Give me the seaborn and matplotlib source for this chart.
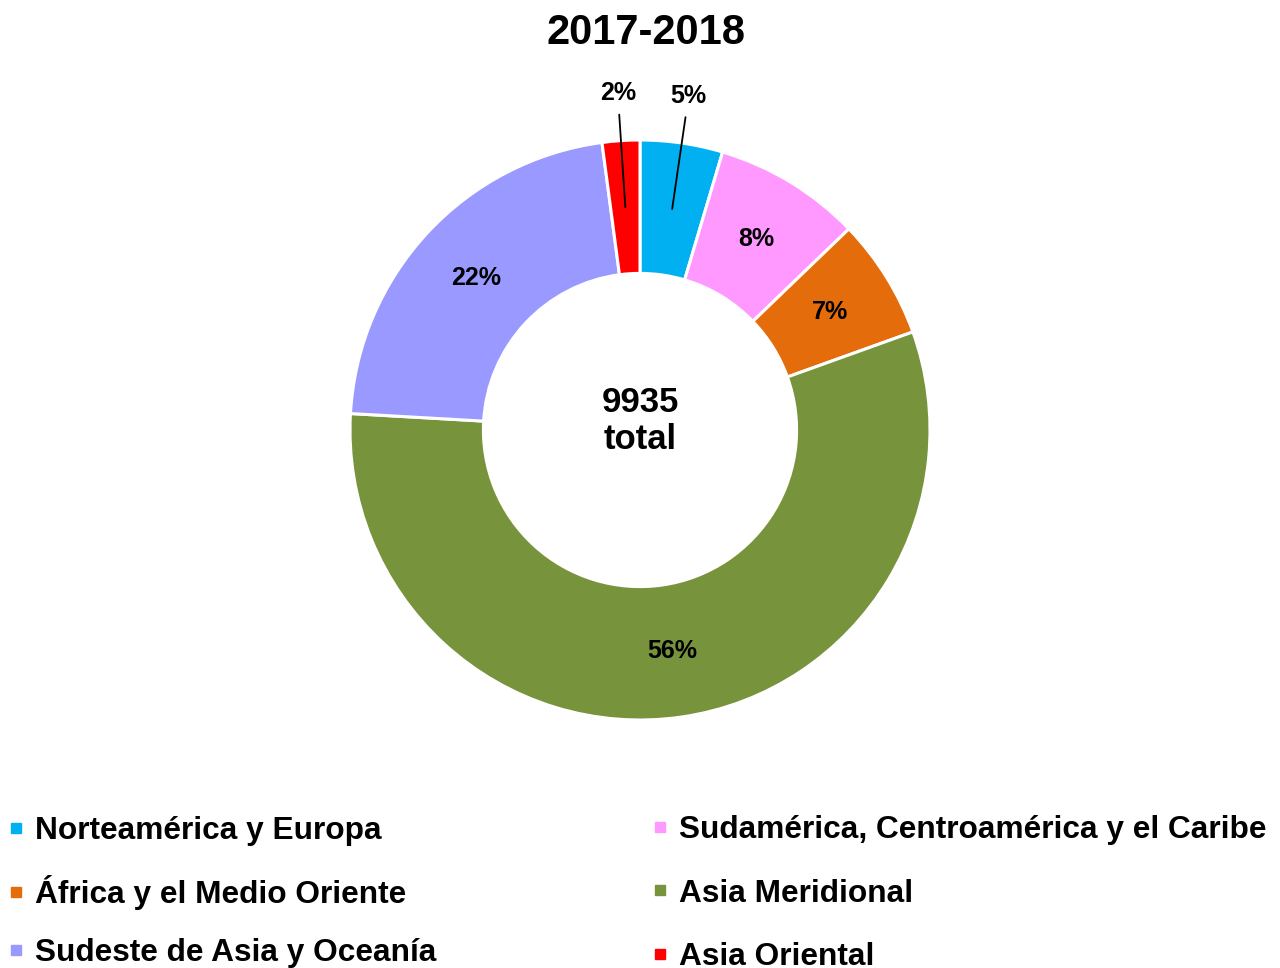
import numpy as np
import seaborn as sns
import matplotlib.pyplot as plt
from matplotlib.lines import Line2D

# data
regions = ["Norteamérica y Europa", "Sudamérica, Centroamérica y el Caribe",
           "África y el Medio Oriente", "Asia Meridional",
           "Sudeste de Asia y Oceanía", "Asia Oriental"]
counts = [457, 815, 666, 5603, 2186, 208]
colors = ["#00B0F0", "#FF99FF", "#E46C0A", "#77933C", "#9999FF", "#FF0000"]
title = "2017-2018"

sns.set_theme(style="white")
plt.rcParams['font.family'] = ['Liberation Sans', 'DejaVu Sans']
plt.rcParams['font.weight'] = 'bold'
plt.rcParams['text.color'] = 'black'

fig = plt.figure(figsize=(12.8, 9.68), dpi=100)
# donut centered at (640, 430) px, radius 290 px
cx, cy, r = 640 / 1280, 1 - 430 / 968, 290
ax = fig.add_axes([cx - r / 1280, cy - r / 968, 2 * r / 1280, 2 * r / 968])

wedges, _ = ax.pie(counts, colors=colors, startangle=90, counterclock=False,
                   radius=1, wedgeprops=dict(width=0.46, edgecolor="white", linewidth=2.2))
ax.set_xlim(-1, 1)
ax.set_ylim(-1, 1)
ax.set_aspect("equal")
ax.axis("off")

total = sum(counts)
pcts = [c / total * 100 for c in counts]
for w, p in zip(wedges, pcts):
    ang = np.deg2rad((w.theta1 + w.theta2) / 2)
    txt = f"{p:.0f}%"
    if p < 5:
        ax.plot([0.77 * np.cos(ang), 1.09 * np.cos(ang)],
                [0.77 * np.sin(ang), 1.09 * np.sin(ang)], color="black", lw=1.3,
                clip_on=False)
        ax.text(1.165 * np.cos(ang), 1.165 * np.sin(ang), txt, ha="center", va="center",
                fontsize=18, fontweight="bold")
    else:
        ax.text(0.77 * np.cos(ang), 0.77 * np.sin(ang), txt, ha="center", va="center",
                fontsize=18, fontweight="bold")

ax.text(0, 0.03, f"{total}\ntotal", ha="center", va="center", fontsize=25,
        fontweight="bold", linespacing=1.15)

fig.text(0.505, 1 - 33 / 968, title, ha="center", va="center", fontsize=30, fontweight="bold")

handles = [Line2D([], [], marker="s", color=c, linestyle="none", markersize=7) for c in colors]
# legend is filled row by row in the reference: two columns drawn as two legends
leg_kw = dict(loc="upper left", ncol=1, frameon=False, prop={"size": 22.8, "weight": "bold"},
              handlelength=0.6, handletextpad=0.3, borderaxespad=0, borderpad=0.2)
left = [0, 2, 4]
right = [1, 3, 5]
fig.legend([handles[i] for i in left], [regions[i] for i in left],
           bbox_to_anchor=(0.0, 1 - 810 / 968), labelspacing=0.9, **leg_kw)
fig.legend([handles[i] for i in right], [regions[i] for i in right],
           bbox_to_anchor=(644 / 1280, 1 - 809 / 968), labelspacing=1.05, **leg_kw)

fig.savefig("out.png", dpi=100)
